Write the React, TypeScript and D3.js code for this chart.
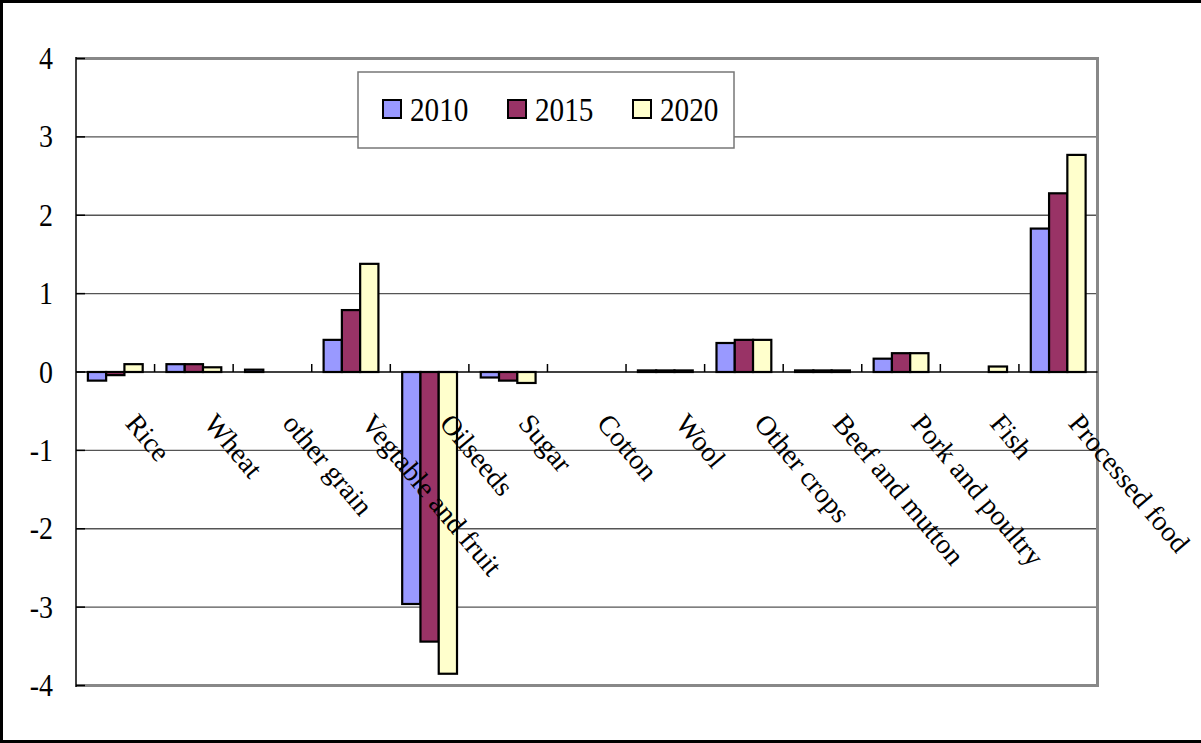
import React from "react";
import * as d3 from "d3";

const categories = [
  "Rice",
  "Wheat",
  "other grain",
  "Vegtable and fruit",
  "Oilseeds",
  "Sugar",
  "Cotton",
  "Wool",
  "Other crops",
  "Beef and mutton",
  "Pork and poultry",
  "Fish",
  "Processed food",
];

const seriesNames = ["2010", "2015", "2020"];
const values2010 = [-0.11, 0.1, 0.03, 0.41, -2.96, -0.07, 0, 0.02, 0.37, 0.02, 0.17, 0, 1.83];
const values2015 = [-0.04, 0.1, 0, 0.79, -3.44, -0.11, 0, 0.02, 0.41, 0.02, 0.24, 0, 2.28];
const values2020 = [0.1, 0.06, 0, 1.38, -3.85, -0.14, 0, 0.02, 0.41, 0.02, 0.24, 0.07, 2.77];
const yTicks = [-4, -3, -2, -1, 0, 1, 2, 3, 4];

const seriesColors = ["#9999FF", "#993366", "#FFFFCC"];

const W = 1201;
const H = 743;
const plot = { left: 76, right: 1097.5, top: 58.5, bottom: 685.5 };

export default function App() {
  const series = [values2010, values2015, values2020];

  const x0 = d3
    .scaleBand<string>()
    .domain(categories)
    .range([plot.left, plot.right])
    .padding(0);
  const x1 = d3
    .scaleBand<string>()
    .domain(seriesNames)
    .range([0, x0.bandwidth()])
    .paddingInner(0)
    .paddingOuter(0.65);
  const y = d3.scaleLinear().domain([-4, 4]).range([plot.bottom, plot.top]);
  const y0 = y(0);

  const serif = "'Liberation Serif', 'Times New Roman', serif";

  return (
    <svg
      width={W}
      height={H}
      style={{ position: "absolute", left: 0, top: 0, background: "#fff" }}
    >
      <rect x={0} y={0} width={W} height={H} fill="#fff" />

      {/* outer frame */}
      <line x1={1.5} y1={0} x2={1.5} y2={H} stroke="#000" strokeWidth={3} />
      <line x1={0} y1={1.5} x2={W} y2={1.5} stroke="#000" strokeWidth={3} />
      <line x1={0} y1={741.5} x2={W} y2={741.5} stroke="#000" strokeWidth={3} />

      {/* horizontal gridlines */}
      {yTicks
        .filter((t) => t !== 0)
        .map((t) => (
          <line
            key={`g${t}`}
            x1={plot.left}
            x2={plot.right}
            y1={y(t)}
            y2={y(t)}
            stroke="#555"
            strokeWidth={1.3}
          />
        ))}

      {/* plot area border (top, right, bottom) */}
      <line x1={plot.left} x2={plot.right} y1={plot.top} y2={plot.top} stroke="#888" strokeWidth={3} />
      <line x1={plot.right} x2={plot.right} y1={plot.top - 1.5} y2={plot.bottom + 1.5} stroke="#888" strokeWidth={3} />
      <line x1={plot.left} x2={plot.right} y1={plot.bottom} y2={plot.bottom} stroke="#888" strokeWidth={3} />

      {/* bars */}
      {categories.map((c, i) => (
        <g key={c} transform={`translate(${x0(c)},0)`}>
          {series.map((vals, s) => {
            const v = vals[i];
            if (v === 0) return null;
            const top = y(Math.max(0, v));
            const bot = y(Math.min(0, v));
            return (
              <rect
                key={s}
                x={x1(seriesNames[s])}
                y={top}
                width={x1.bandwidth()}
                height={bot - top}
                fill={seriesColors[s]}
                stroke="#000"
                strokeWidth={2.2}
              />
            );
          })}
        </g>
      ))}

      {/* value axis */}
      <line x1={plot.left} x2={plot.left} y1={plot.top - 1.5} y2={plot.bottom + 1.5} stroke="#000" strokeWidth={1.5} />
      {yTicks.map((t) => (
        <g key={`t${t}`}>
          <line x1={plot.left} x2={plot.left + 9} y1={y(t)} y2={y(t)} stroke="#000" strokeWidth={1.5} />
          <text
            transform={`translate(53,${y(t) + 10.5}) scale(0.9,1)`}
            textAnchor="end"
            fontFamily={serif}
            fontSize={31}
            fill="#000"
          >
            {t}
          </text>
        </g>
      ))}

      {/* category axis at zero */}
      <line x1={plot.left} x2={plot.right} y1={y0} y2={y0} stroke="#000" strokeWidth={1.5} />
      {categories.slice(1).map((c) => (
        <line
          key={`ct${c}`}
          x1={x0(c)}
          x2={x0(c)}
          y1={y0}
          y2={y0 - 8}
          stroke="#000"
          strokeWidth={1.5}
        />
      ))}
      {categories.map((c) => {
        const cx = (x0(c) as number) + x0.bandwidth() / 2 + 9;
        return (
          <text
            key={`cl${c}`}
            transform={`translate(${cx},424) rotate(50)`}
            fontFamily={serif}
            fontSize={28}
            fill="#000"
          >
            {c}
          </text>
        );
      })}

      {/* legend */}
      <rect x={358} y={72} width={376} height={76} fill="#fff" stroke="#777" strokeWidth={1.5} />
      {seriesNames.map((name, s) => {
        const lx = 383 + s * 125;
        return (
          <g key={name}>
            <rect x={lx} y={100} width={18} height={18} fill={seriesColors[s]} stroke="#000" strokeWidth={2} />
            <text
              transform={`translate(${lx + 27},121) scale(0.86,1)`}
              fontFamily={serif}
              fontSize={34}
              fill="#000"
            >
              {name}
            </text>
          </g>
        );
      })}
    </svg>
  );
}
